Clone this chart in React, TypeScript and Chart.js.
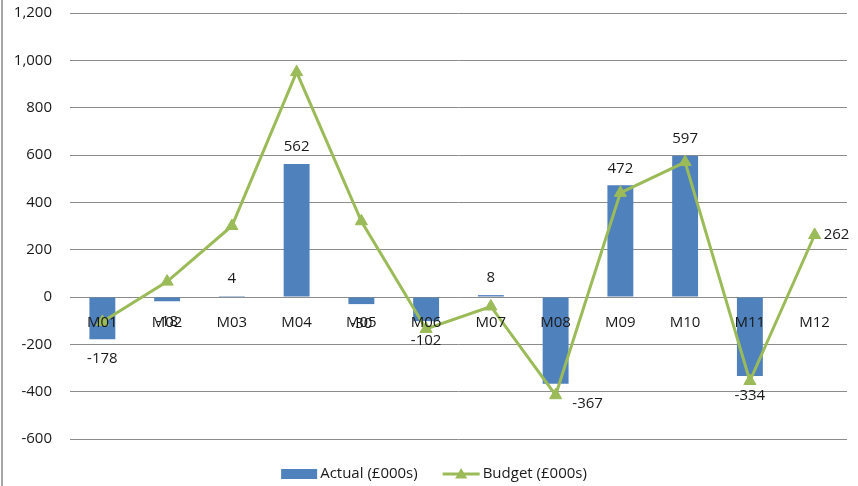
import React, { useEffect, useRef } from 'react';
import { Chart, registerables } from 'chart.js';

Chart.register(...registerables);

const categories = ['M01', 'M02', 'M03', 'M04', 'M05', 'M06', 'M07', 'M08', 'M09', 'M10', 'M11', 'M12'];
const actual: (number | null)[] = [-178, -18, 4, 562, -30, -102, 8, -367, 472, 597, -334, null];
const budget: number[] = [-105, 65, 300, 950, 320, -135, -40, -415, 440, 570, -355, 262];
const yMin = -600;
const yMax = 1200;
const yStep = 200;
const actualName = 'Actual (£000s)';
const budgetName = 'Budget (£000s)';

const FONT = '"Open Sans", Lato, "Liberation Sans", sans-serif';
const FS = 15;
const BLUE = '#4F81BD';
const GREEN = '#9BBB59';
const TEXT = '#1a1a1a';
const GRID = '#8c8c8c';

function drawTriangle(ctx: CanvasRenderingContext2D, x: number, y: number, r: number) {
  ctx.beginPath();
  for (let k = 0; k < 3; k++) {
    const a = (k * 2 * Math.PI) / 3;
    const px = x + Math.sin(a) * r;
    const py = y - Math.cos(a) * r;
    if (k === 0) ctx.moveTo(px, py);
    else ctx.lineTo(px, py);
  }
  ctx.closePath();
  ctx.fill();
}

const valueLabels = {
  id: 'valueLabels',
  afterDatasetsDraw(chart: any) {
    const ctx: CanvasRenderingContext2D = chart.ctx;
    ctx.save();
    ctx.font = `${FS}px ${FONT}`;
    ctx.fillStyle = TEXT;
    ctx.textBaseline = 'middle';
    ctx.textAlign = 'center';
    const barMeta = chart.getDatasetMeta(1);
    barMeta.data.forEach((el: any, i: number) => {
      const v = actual[i];
      if (v == null) return;
      const nudge = i === 7 ? 32 : 0;
      const y = v >= 0 ? el.y - 17 : el.y + 20;
      ctx.fillText(String(v), el.x + nudge, y);
    });
    const lineMeta = chart.getDatasetMeta(0);
    const last = budget.length - 1;
    const pt = lineMeta.data[last];
    ctx.textAlign = 'left';
    ctx.fillText(String(budget[last]), pt.x + 9, pt.y);
    ctx.restore();
  },
};

const customLegend = {
  id: 'customLegend',
  afterDraw(chart: any) {
    const ctx: CanvasRenderingContext2D = chart.ctx;
    ctx.save();
    ctx.font = `${FS}px ${FONT}`;
    ctx.textBaseline = 'middle';
    ctx.textAlign = 'left';
    const w1 = ctx.measureText(actualName).width;
    const w2 = ctx.measureText(budgetName).width;
    const boxW = 36;
    const lineW = 37;
    const gap = 3;
    const itemGap = 25;
    const total = boxW + gap + w1 + itemGap + lineW + gap + w2;
    let x = chart.width / 2 + 5 - total / 2;
    const cy = chart.chartArea.bottom + 35;
    ctx.fillStyle = BLUE;
    ctx.fillRect(x, cy - 5, boxW, 10);
    x += boxW + gap;
    ctx.fillStyle = TEXT;
    ctx.fillText(actualName, x, cy);
    x += w1 + itemGap;
    ctx.strokeStyle = GREEN;
    ctx.lineWidth = 3;
    ctx.beginPath();
    ctx.moveTo(x, cy);
    ctx.lineTo(x + lineW, cy);
    ctx.stroke();
    ctx.fillStyle = GREEN;
    drawTriangle(ctx, x + lineW / 2, cy + 1, 7);
    x += lineW + gap;
    ctx.fillStyle = TEXT;
    ctx.fillText(budgetName, x, cy);
    ctx.restore();
  },
};

export default function App() {
  const ref = useRef<HTMLCanvasElement>(null);
  useEffect(() => {
    document.body.style.margin = '0';
    const chart = new Chart(ref.current as HTMLCanvasElement, {
      type: 'bar',
      data: {
        labels: categories,
        datasets: [
          {
            type: 'line',
            label: budgetName,
            data: budget,
            borderColor: GREEN,
            backgroundColor: GREEN,
            borderWidth: 3,
            pointStyle: 'triangle',
            pointRadius: 7,
            pointBackgroundColor: GREEN,
            pointBorderColor: GREEN,
            pointBorderWidth: 1,
            tension: 0,
            order: 0,
          } as any,
          {
            type: 'bar',
            label: actualName,
            data: actual,
            backgroundColor: BLUE,
            barPercentage: 0.4,
            categoryPercentage: 1,
            order: 1,
          } as any,
        ],
      },
      options: {
        animation: false,
        responsive: false,
        layout: { padding: { left: 2, top: 13, right: 11, bottom: 47 } },
        plugins: {
          legend: { display: false },
          tooltip: { enabled: false },
        },
        scales: {
          x: {
            type: 'category',
            position: { y: 0 } as any,
            offset: true,
            grid: { display: false, drawTicks: false },
            border: { display: false },
            ticks: { z: 1, color: TEXT, font: { family: FONT, size: FS }, padding: 17, maxRotation: 0, autoSkip: false },
            afterFit(scale: any) {
              scale.height = 0;
            },
          },
          y: {
            min: yMin,
            max: yMax,
            ticks: { stepSize: yStep, color: TEXT, font: { family: FONT, size: FS }, padding: 18 },
            grid: { color: GRID, lineWidth: 1, drawTicks: false },
            border: { display: false },
            afterFit(scale: any) {
              scale.width = 68;
              scale.paddingTop = 0;
              scale.paddingBottom = 0;
            },
          },
        },
      },
      plugins: [valueLabels, customLegend],
    });
    return () => chart.destroy();
  }, []);
  return (
    <div style={{ position: 'relative', width: 858, height: 486 }}>
      <canvas ref={ref} width={858} height={486} style={{ display: 'block' }} />
      <div style={{ position: 'absolute', left: 1, top: 0, width: 2, height: 486, background: '#a6a6a6' }} />
    </div>
  );
}
